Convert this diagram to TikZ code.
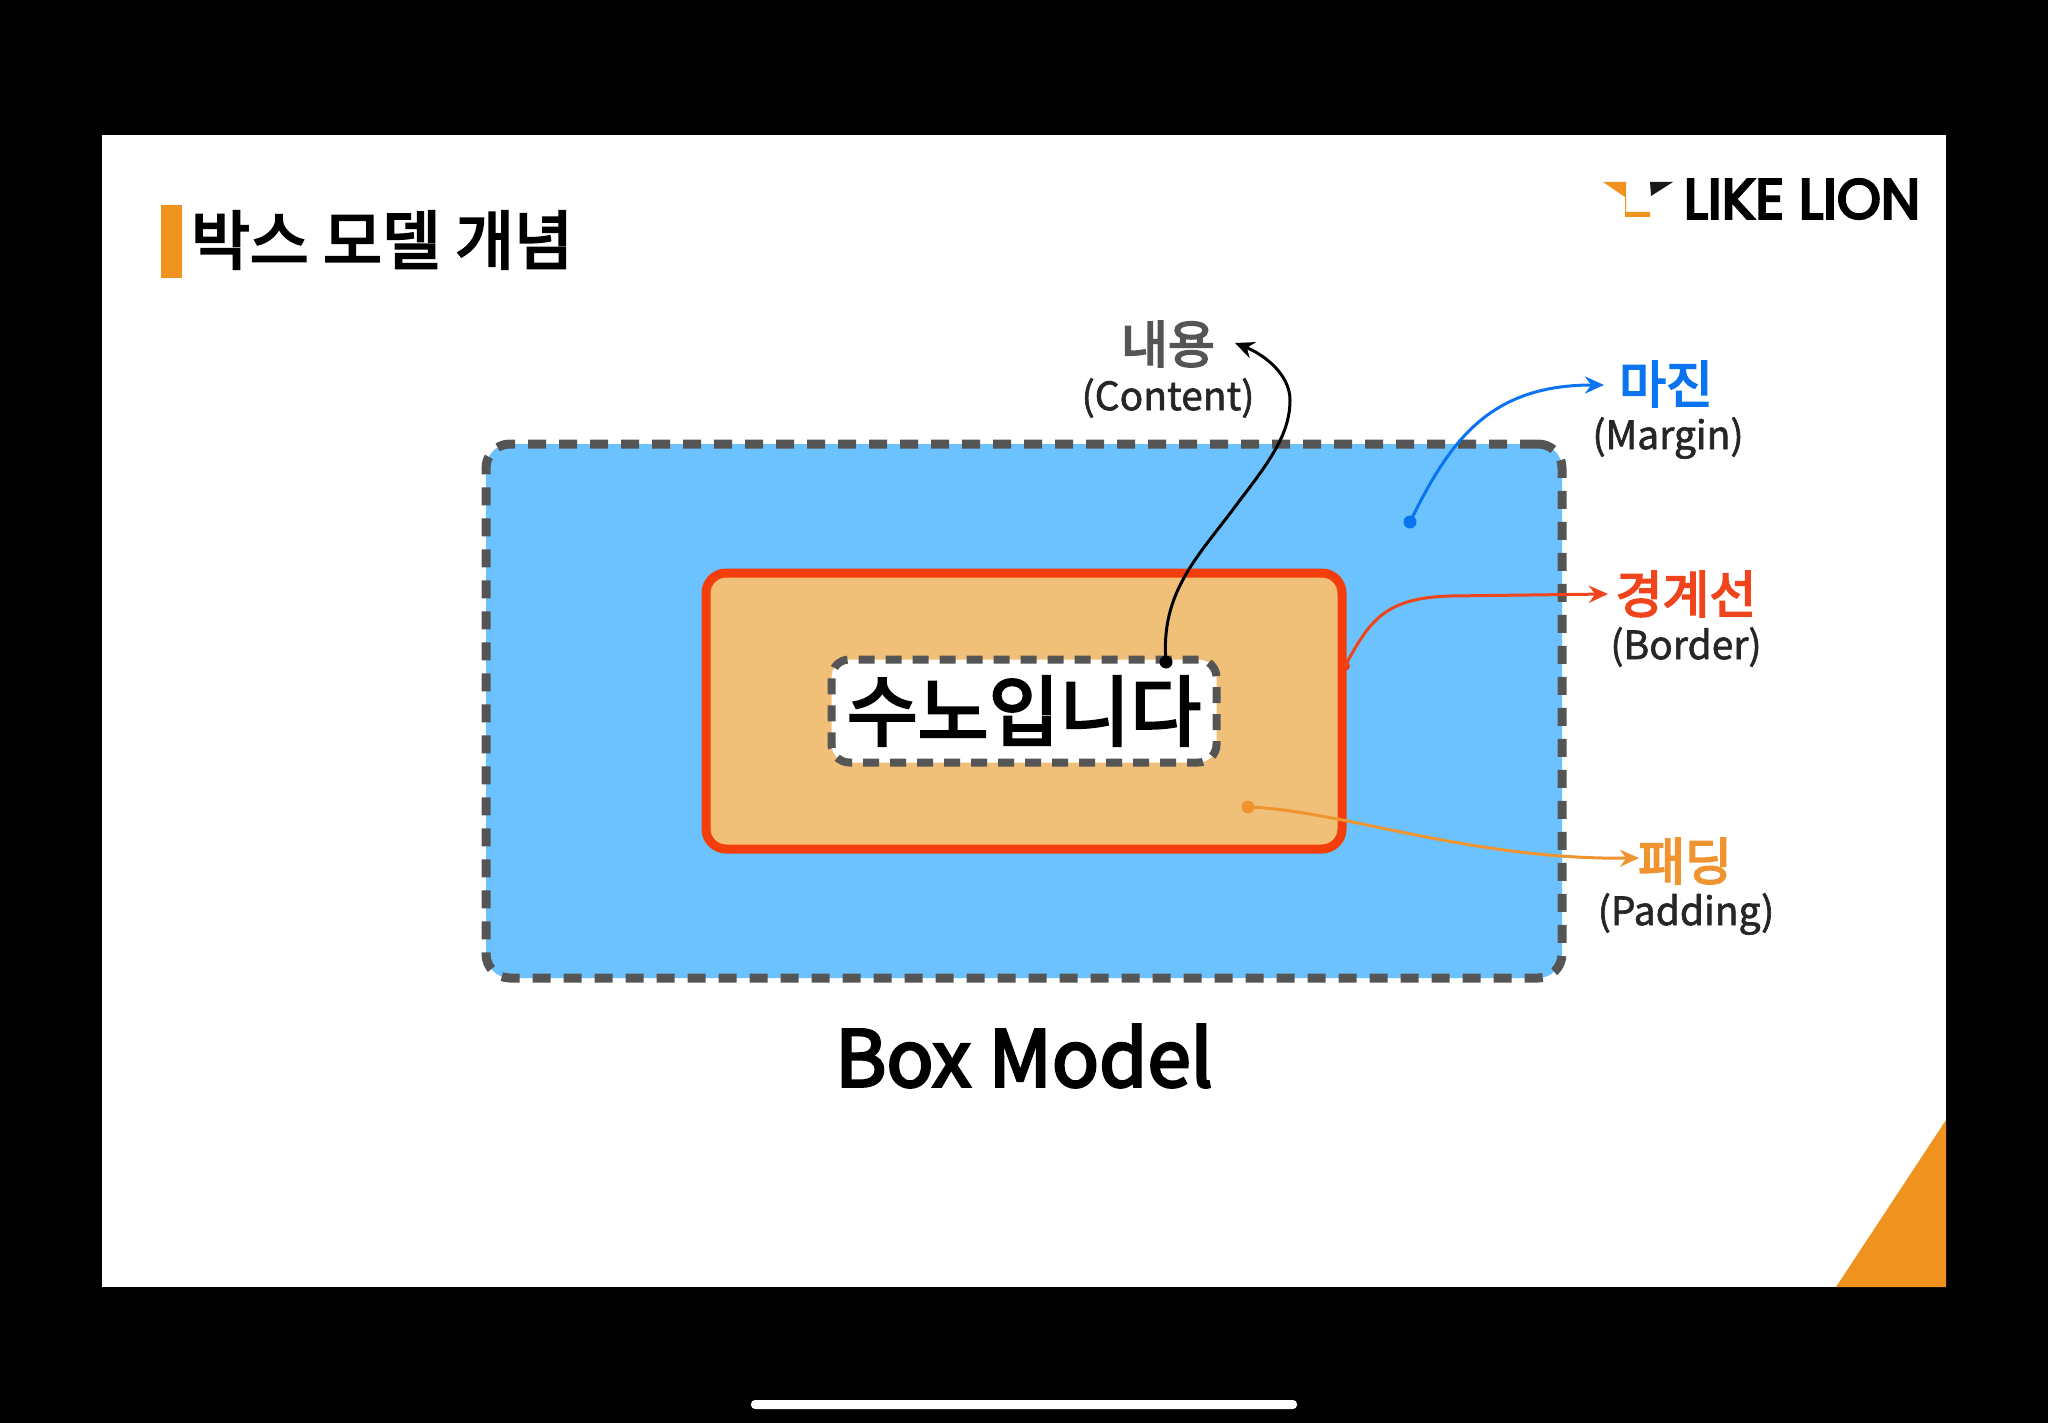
\documentclass[tikz,border=0pt]{standalone}
\usepackage{fontspec}
\setmainfont{Noto Sans CJK KR}
\newfontfamily\medfont[FakeBold=3.5]{Noto Sans CJK KR}
\newfontfamily\subfont[FakeBold=1.6]{Noto Sans CJK KR}
\newfontfamily\logofont[FakeBold=4.5]{Poppins}
\usetikzlibrary{arrows.meta}
\definecolor{slideorange}{HTML}{F0921E}
\definecolor{dashgray}{HTML}{555555}
\definecolor{marginblue}{HTML}{6CC2FE}
\definecolor{paddingtan}{HTML}{F0C078}
\definecolor{borderred}{HTML}{F33E0B}
\definecolor{lblblue}{HTML}{0A74F0}
\definecolor{lblred}{HTML}{F0441C}
\definecolor{lblorange}{HTML}{F09430}
\newcommand{\fs}[1]{\fontsize{#1}{#1}\selectfont}
\tikzset{
  x=1pt,y=-1pt,
  dashbox/.style={draw=dashgray,line width=9pt,dash pattern=on 18pt off 13pt,rounded corners=24pt,inner sep=0pt},
  head/.style={font=\fs{51}\medfont,inner sep=0pt,anchor=center},
  sub/.style={font=\fs{39}\subfont,text=black!85,inner sep=0pt,anchor=center},
  conn/.style={line width=3pt,-{Stealth[length=19pt,width=17pt]}},
  dot/.style={circle,inner sep=0pt,minimum size=13pt},
}
\begin{document}
\begin{tikzpicture}
\useasboundingbox (0,0) rectangle (2048,1423);
\fill[black] (0,0) rectangle (2048,1423);
\fill[white] (102,135) rectangle (1946,1287);
\fill[slideorange] (1836,1287) -- (1946,1287) -- (1946,1120) -- cycle;
\fill[white,rounded corners=4pt] (751,1400) rectangle (1297,1409);
% title
\fill[slideorange] (161,205) rectangle (182,278);
\node[font=\fs{64}\medfont,inner sep=0pt] (title) at (382,240) {박스 모델 개념};
% logo
\fill[slideorange] (1603,182) -- (1626,182) -- (1626,212) -- (1650,212) -- (1650,217) -- (1625,217) -- (1625,197) -- cycle;
\fill[black!90] (1650,182) -- (1673,182) -- (1651,196) -- cycle;
\node[font=\fs{56}\logofont,inner sep=0pt,anchor=center] (logo) at (1802,199) {LIKE LION};
% boxes
\node[dashbox,fill=marginblue,minimum width=1076pt,minimum height=534pt] (margin) at (1024,711) {};
\node[draw=borderred,fill=paddingtan,line width=9pt,rounded corners=20pt,inner sep=0pt,minimum width=636pt,minimum height=276pt] (border) at (1024,711) {};
\node[dashbox,fill=white,line width=8pt,dash pattern=on 16pt off 11pt,rounded corners=18pt,minimum width=385pt,minimum height=103pt,font=\fs{77}\medfont] (content) at (1024,711) {수노입니다};
\node[font=\fs{78}\medfont,inner sep=0pt] (boxmodel) at (1024,1056) {Box Model};
% labels
\node[head,text=dashgray] (lc) at (1168,344) {내용};
\node[sub] (lcs) at (1168,398) {(Content)};
\node[head,text=lblblue] (lm) at (1666,384) {마진};
\node[sub] (lms) at (1668,438) {(Margin)};
\node[head,text=lblred] (lb) at (1686,594) {경계선};
\node[sub] (lbs) at (1686,647) {(Border)};
\node[head,text=lblorange] (lp) at (1685,861) {패딩};
\node[sub] (lps) at (1686,914) {(Padding)};
% connector ends
\node[dot,fill=black] (dc) at (1166,662) {};
\node[dot,fill=lblblue] (dm) at (1410,522) {};
\node[dot,fill=borderred,minimum size=10pt] (db) at (1345,666) {};
\node[dot,fill=lblorange] (dp) at (1248,807) {};
\coordinate (ac) at (1235,343);
\coordinate (am) at (1604,385);
\coordinate (ab) at (1608,594);
\coordinate (ap) at (1639,858);
% connectors
\draw[conn,black] (dc.center) .. controls (1160,590) and (1200,555) .. (1240,500)
   .. controls (1275,455) and (1290,430) .. (1290,400)
   .. controls (1290,375) and (1265,355) .. (ac);
\draw[conn,lblblue] (dm.center) .. controls (1450,440) and (1490,385) .. (am);
\draw[conn,lblred] (db.center) .. controls (1370,620) and (1385,598) .. (1450,596) -- (ab);
\draw[conn,lblorange] (dp.center) .. controls (1340,810) and (1470,860) .. (ap);
\end{tikzpicture}
\end{document}
